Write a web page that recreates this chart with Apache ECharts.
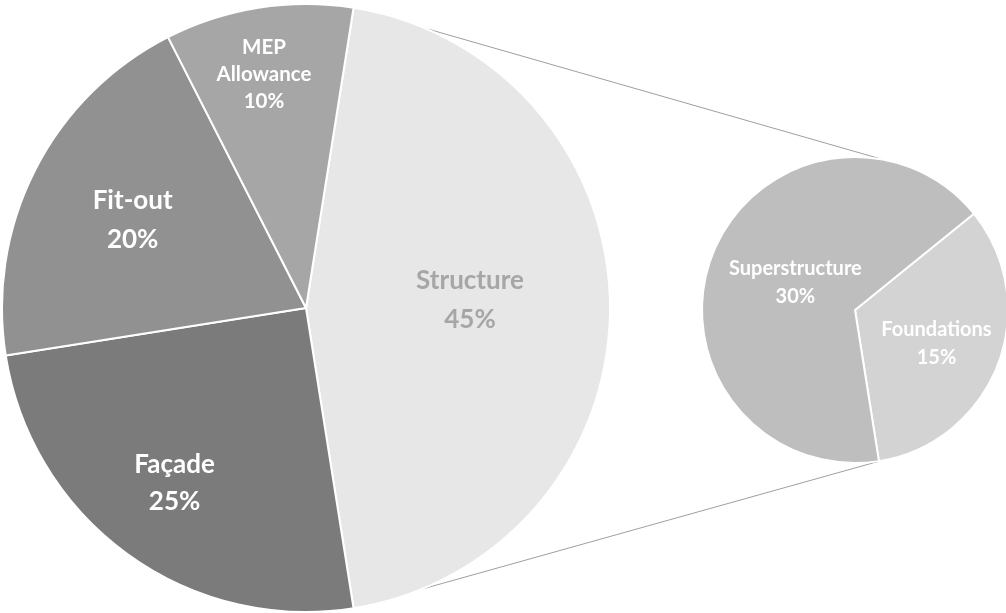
<!DOCTYPE html>
<html>
<head>
<meta charset="utf-8">
<script src="https://cdn.jsdelivr.net/npm/echarts@6/dist/echarts.min.js"></script>
<style>
html,body{margin:0;padding:0;background:#fff;}
#chart{width:1006px;height:613px;}
</style>
</head>
<body>
<div id="chart"></div>
<script>
// ---- data ----
const mainCategories = ['Structure', 'Façade', 'Fit-out', 'MEP Allowance'];
const mainValues = [45, 25, 20, 10];
const subCategories = ['Foundations', 'Superstructure'];
const subValues = [15, 30];

// ---- styles / layout ----
const mainColors = ['#e7e7e7', '#7b7b7b', '#919191', '#a6a6a6'];
const subColors = ['#d3d3d3', '#bebebe'];
const mainLabelColors = ['#a6a6a6', '#fff', '#fff', '#fff'];
const mainLabelFrac = [0.54, 0.72, 0.64, 0.78];
const mainLabelDAng = [2.6, -0.9, 0, 1.2];
const subLabelFrac = [0.577, 0.43];
const subLabelDAng = [-1.6, -4];
const mainFont = [26, 26, 26, 20.5];
const mainLine = [39, 37, 39, 27];

const M = {cx: 306, cy: 308, r: 304, start: 81};
const S = {cx: 855, cy: 310, r: 153, start: 39};
const FONT = 'Lato, "Open Sans", sans-serif';

function midAngles(values, start) {
  const tot = values.reduce((a, b) => a + b, 0);
  let cum = 0;
  return values.map(v => {
    const a = start - 360 * (cum + v / 2) / tot;
    cum += v;
    return a;
  });
}
const mainMid = midAngles(mainValues, M.start);
const subMid = midAngles(subValues, S.start);

function pos(g, ang, frac) {
  const rad = ang * Math.PI / 180;
  return [g.cx + frac * g.r * Math.cos(rad), g.cy - frac * g.r * Math.sin(rad)];
}

const splitA = M.start;
const pTopMain = pos(M, splitA, 1), pBotMain = pos(M, -splitA, 1);
const pTopSub = pos(S, splitA - 1.5, 1), pBotSub = pos(S, -splitA + 0.5, 1);

const chart = echarts.init(document.getElementById('chart'));
chart.setOption({
  backgroundColor: '#fff',
  animation: false,
  graphic: [
    {type: 'line', z: 0, shape: {x1: pTopMain[0], y1: pTopMain[1], x2: pTopSub[0], y2: pTopSub[1]}, style: {stroke: '#a0a0a0', lineWidth: 1}},
    {type: 'line', z: 0, shape: {x1: pBotMain[0], y1: pBotMain[1], x2: pBotSub[0], y2: pBotSub[1]}, style: {stroke: '#a0a0a0', lineWidth: 1}}
  ],
  series: [
    {
      type: 'pie',
      center: [M.cx, M.cy],
      radius: [0, M.r],
      startAngle: M.start,
      clockwise: true,
      z: 2,
      itemStyle: {borderColor: '#fff', borderWidth: 2},
      label: {
        position: 'inside',
        fontFamily: FONT,
        fontWeight: 'bold',
        formatter: p => p.name.split(' ').join('\n') + '\n' + p.value + '%'
      },
      labelLine: {show: false},
      labelLayout: p => {
        const i = p.dataIndex;
        const q = pos(M, mainMid[i] + mainLabelDAng[i], mainLabelFrac[i]);
        return {x: q[0], y: q[1], align: 'center', verticalAlign: 'middle'};
      },
      emphasis: {disabled: true},
      data: mainCategories.map((n, i) => ({
        name: n, value: mainValues[i],
        itemStyle: {color: mainColors[i]},
        label: {color: mainLabelColors[i], fontSize: mainFont[i], lineHeight: mainLine[i]}
      }))
    },
    {
      type: 'pie',
      center: [S.cx, S.cy],
      radius: [0, S.r],
      startAngle: S.start,
      clockwise: true,
      z: 2,
      itemStyle: {borderColor: '#fff', borderWidth: 2},
      label: {
        position: 'inside',
        fontFamily: FONT,
        fontWeight: 'bold',
        color: '#fff',
        fontSize: 20,
        lineHeight: 28,
        formatter: p => p.name + '\n' + p.value + '%'
      },
      labelLine: {show: false},
      labelLayout: p => {
        const i = p.dataIndex;
        const q = pos(S, subMid[i] + subLabelDAng[i], subLabelFrac[i]);
        return {x: q[0], y: q[1], align: 'center', verticalAlign: 'middle'};
      },
      emphasis: {disabled: true},
      data: subCategories.map((n, i) => ({
        name: n, value: subValues[i],
        itemStyle: {color: subColors[i]}
      }))
    }
  ]
});
</script>
</body>
</html>
